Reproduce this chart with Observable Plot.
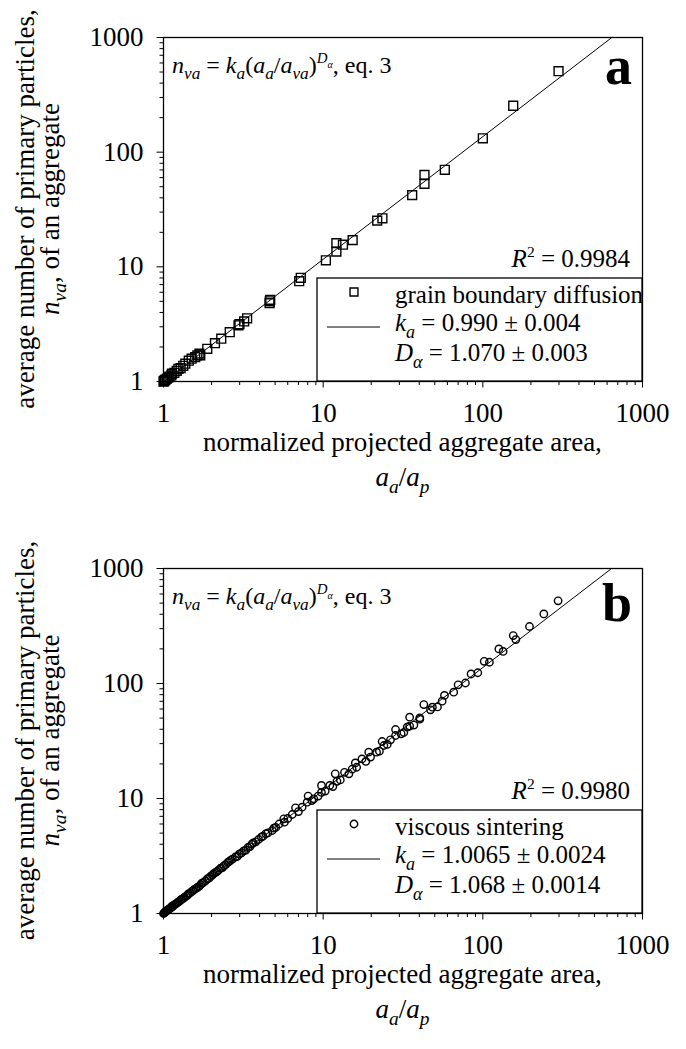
<!DOCTYPE html>
<html><head><meta charset="utf-8">
<script src="https://cdn.jsdelivr.net/npm/d3@7"></script>
<script src="https://cdn.jsdelivr.net/npm/@observablehq/plot@0.6"></script>
<style>body{margin:0;background:#fff;} svg{display:block}</style>
</head><body><div id="chart"></div>
<script>
// ---------- data ----------
const tickValues = [1, 10, 100, 1000];
const tickLabels = ["1", "10", "100", "1000"];

// panel a: grain boundary diffusion (squares)
const aX = [1.00,1.01,1.02,1.03,1.05,1.07,1.09,1.12,1.13,1.17,1.21,1.24,1.28,1.33,1.37,1.44,1.50,1.58,1.63,1.68,1.70,1.88,2.10,2.30,2.60,2.95,2.99,3.20,3.34,4.62,4.63,4.66,7.08,7.24,10.4,12.1,12.1,13.3,15.3,21.8,23.5,36.1,43.1,43.1,57.8,100,155,298];
const aY = [1.00,1.01,1.03,1.04,1.06,1.08,1.10,1.13,1.17,1.19,1.24,1.29,1.31,1.37,1.43,1.52,1.58,1.63,1.69,1.75,1.69,1.93,2.16,2.36,2.69,3.09,3.16,3.34,3.56,4.82,5.00,5.16,7.50,8.02,11.4,13.6,16.1,15.6,17.1,25.3,26.5,42.2,52.9,63.4,70.2,132,254,508];

// panel b: viscous sintering (circles)
const bX = [1.00,1.01,1.02,1.03,1.04,1.05,1.06,1.07,1.08,1.09,1.10,1.12,1.13,1.14,1.16,1.18,1.20,1.22,1.24,1.26,1.28,1.30,1.33,1.35,1.38,1.41,1.43,1.46,1.50,1.53,1.56,1.60,1.63,1.67,1.71,1.74,1.78,1.83,1.88,1.93,1.97,2.02,2.06,2.11,2.16,2.21,2.28,2.34,2.39,2.45,2.53,2.57,2.63,2.70,2.82,2.90,2.98,3.08,3.18,3.28,3.38,3.48,3.57,3.65,3.78,3.94,4.10,4.20,4.37,4.50,4.80,4.91,5.05,5.30,5.67,5.72,6.00,6.40,6.71,7.00,7.38,7.94,8.05,8.50,8.74,9.30,9.76,9.76,10.3,11.0,11.5,12.2,11.9,12.8,13.6,14.5,15.2,15.9,16.2,17.5,18.5,19.3,19.8,21.6,22.5,23.4,24.0,25.2,26.4,28.4,30.8,28.4,32.0,33.6,34.8,34.8,37.0,40.3,40.3,42.7,47.0,48.3,52.0,55.6,57.5,65.7,70.0,77.8,84.4,93.0,102,110,126,134,155,161,196,241,296];
const bY = [1.00,1.01,1.02,1.04,1.05,1.06,1.07,1.08,1.09,1.10,1.11,1.13,1.16,1.15,1.18,1.20,1.22,1.24,1.26,1.28,1.31,1.33,1.35,1.38,1.41,1.44,1.48,1.50,1.55,1.58,1.62,1.65,1.69,1.72,1.78,1.84,1.86,1.92,2.00,2.03,2.10,2.16,2.22,2.27,2.31,2.38,2.48,2.51,2.60,2.66,2.78,2.83,2.90,2.97,3.10,3.13,3.28,3.36,3.50,3.55,3.75,3.82,4.00,4.11,4.20,4.40,4.62,4.70,4.93,5.02,5.27,5.52,5.60,6.00,6.66,6.22,6.70,7.26,8.30,7.70,8.41,9.29,10.5,9.60,9.94,10.5,11.3,13.0,11.6,13.0,12.7,14.1,16.4,14.5,16.9,16.4,18.0,20.4,18.7,22.1,21.0,25.3,22.9,25.3,25.8,31.3,28.9,29.5,32.4,39.8,36.5,35.3,37.5,41.7,42.6,51.0,43.5,50.3,49.0,65.6,59.0,62.2,62.5,70.2,78.7,84.0,97.3,101,121,124,156,153,200,190,261,241,313,403,524];

const panels = [
  {letter: "a", xs: aX, ys: aY, symbol: "square", r: 5, k: 0.990, D: 1.070,
   series: "grain boundary diffusion", kText: "0.990 ± 0.004", dText: "1.070 ± 0.003", r2: "0.9984",
   height: 531, marginBottom: 150, letterDy: 47},
  {letter: "b", xs: bX, ys: bY, symbol: "circle", r: 3.7, k: 1.0065, D: 1.068,
   series: "viscous sintering", kText: "1.0065 ± 0.0024", dText: "1.068 ± 0.0014", r2: "0.9980",
   height: 518, marginBottom: 136, letterDy: 53}
];

// ---------- drawing ----------
const NS = "http://www.w3.org/2000/svg";
const FONT = "Liberation Serif";
const minorTicks = [1, 10, 100].flatMap(e => [2,3,4,5,6,7,8,9].map(m => m * e));

function addText(parent, x, y, parts, {size = 25, anchor = "start", rotate = null, weight = null} = {}) {
  const t = document.createElementNS(NS, "text");
  t.setAttribute("x", x); t.setAttribute("y", y);
  t.setAttribute("font-family", FONT); t.setAttribute("font-size", size);
  t.setAttribute("text-anchor", anchor); t.setAttribute("fill", "black");
  t.style.whiteSpace = "pre";
  if (weight) t.setAttribute("font-weight", weight);
  if (rotate != null) t.setAttribute("transform", `rotate(${rotate} ${x} ${y})`);
  let cur = 0;
  for (const [txt, st = ""] of parts) {
    let level = 0, fs = 1;
    if (st.includes("s") && st.includes("S")) { level = -0.2 * size; fs = 0.42; }
    else if (st.includes("s")) { level = 0.26 * size; fs = 0.72; }
    else if (st.includes("S")) { level = -0.42 * size; fs = 0.62; }
    const ts = document.createElementNS(NS, "tspan");
    ts.setAttribute("dy", (level - cur).toFixed(2)); cur = level;
    ts.setAttribute("font-size", (size * fs).toFixed(2));
    if (st.includes("i")) ts.setAttribute("font-style", "italic");
    ts.textContent = txt;
    t.appendChild(ts);
  }
  parent.appendChild(t);
  return t;
}

function panel(o) {
  const W = 686, L = 163, R = 44, T = 37;
  const H = o.height, B = o.height - o.marginBottom;
  const data = o.xs.map((x, i) => ({x, y: o.ys[i]}));
  const x0 = Math.max(1, (1 / o.k) ** (1 / o.D)), x1 = Math.min(1000, (1000 / o.k) ** (1 / o.D));
  const fitLine = [x0, x1].map(x => ({x, y: o.k * x ** o.D}));
  const svg = Plot.plot({
    width: W, height: H, marginLeft: L, marginRight: R, marginTop: T, marginBottom: o.marginBottom,
    style: {fontFamily: FONT, fontSize: "27px", color: "black", background: "white", overflow: "visible"},
    x: {type: "log", domain: [1, 1000]},
    y: {type: "log", domain: [1, 1000]},
    marks: [
      Plot.axisX({ticks: minorTicks, tickSize: 4, tickFormat: () => "", label: null}),
      Plot.axisX({ticks: tickValues, tickSize: 6.5, tickPadding: 15, tickFormat: d => tickLabels[tickValues.indexOf(d)], label: null}),
      Plot.axisY({ticks: minorTicks, tickSize: 3.5, tickFormat: () => "", label: null}),
      Plot.axisY({ticks: tickValues, tickSize: 6.5, tickPadding: 13.5, tickFormat: d => tickLabels[tickValues.indexOf(d)], label: null}),
      Plot.line(fitLine, {x: "x", y: "y", stroke: "black", strokeWidth: 1}),
      Plot.dot(data, {x: "x", y: "y", symbol: o.symbol, r: o.r, stroke: "black", strokeWidth: 1.4, fill: "none"}),
      Plot.frame({stroke: "black", strokeWidth: 1.3})
    ]
  });
  const g = document.createElementNS(NS, "g");
  svg.appendChild(g);
  const right = W - R;
  // equation
  addText(g, L + 9, T + 36, [["n","i"],["va","is"],[" = "],["k","i"],["a","is"],["("],["a","i"],["a","is"],["/"],["a","i"],["va","is"],[")"],["D","iS"],["α","isS"],[", eq. 3"]], {size: 24});
  // panel letter
  addText(g, right - 10, T + o.letterDy, [[o.letter]], {size: 54, anchor: "end", weight: "bold"});
  // R^2
  addText(g, right - 12, B - 114, [["R","i"],["2","S"],[" = " + o.r2]], {size: 25, anchor: "end"});
  // legend box
  const box = document.createElementNS(NS, "rect");
  box.setAttribute("x", 317); box.setAttribute("y", B - 103);
  box.setAttribute("width", right - 317); box.setAttribute("height", 103);
  box.setAttribute("fill", "white"); box.setAttribute("stroke", "black"); box.setAttribute("stroke-width", 1.3);
  g.appendChild(box);
  const sym = document.createElementNS(NS, "path");
  sym.setAttribute("d", d3.symbol(o.symbol === "square" ? d3.symbolSquare : d3.symbolCircle, Math.PI * o.r * o.r * (o.symbol === "square" ? 0.8 : 1))());
  sym.setAttribute("transform", `translate(354,${B - 89})`);
  sym.setAttribute("fill", "none"); sym.setAttribute("stroke", "black"); sym.setAttribute("stroke-width", 1.4);
  g.appendChild(sym);
  const ln = document.createElementNS(NS, "line");
  ln.setAttribute("x1", 327); ln.setAttribute("x2", 380);
  ln.setAttribute("y1", B - 54); ln.setAttribute("y2", B - 54);
  ln.setAttribute("stroke", "black"); ln.setAttribute("stroke-width", 1);
  g.appendChild(ln);
  addText(g, 395, B - 78, [[o.series]], {size: 25});
  addText(g, 395, B - 50, [["k","i"],["a","is"],[" = " + o.kText]], {size: 25});
  addText(g, 395, B - 20, [["D","i"],["α","is"],[" = " + o.dText]], {size: 25});
  // axis titles
  const midY = (T + B) / 2, midX = (L + right) / 2;
  addText(g, 34, midY, [["average number of primary particles,"]], {size: 27, anchor: "middle", rotate: -90});
  addText(g, 59, midY, [["n","i"],["va","is"],[", of an aggregate"]], {size: 27, anchor: "middle", rotate: -90});
  addText(g, midX, B + 70, [["normalized projected aggregate area,"]], {size: 27, anchor: "middle"});
  addText(g, midX, B + 105, [["a","i"],["a","is"],["/"],["a","i"],["p","is"]], {size: 27, anchor: "middle"});
  return svg;
}

const root = document.getElementById("chart");
for (const p of panels) root.appendChild(panel(p));
</script>
</body></html>
